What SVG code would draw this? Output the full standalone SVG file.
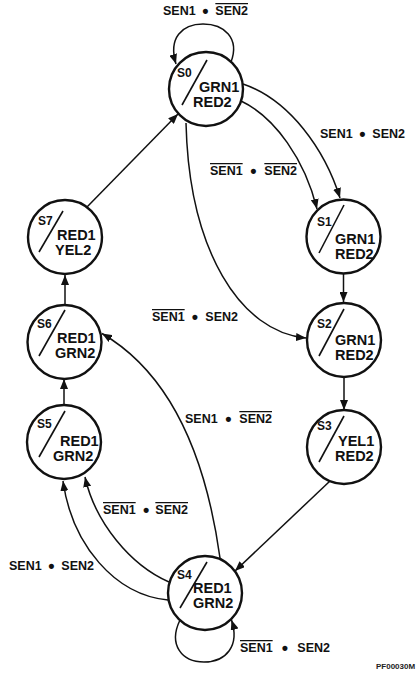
<svg xmlns="http://www.w3.org/2000/svg" width="416" height="678" viewBox="0 0 416 678">
<style>
.st{fill:none;stroke:#111;stroke-width:2.4}
.sl{stroke:#111;stroke-width:1.6;fill:none}
.e{fill:none;stroke:#111;stroke-width:1.5}
.nm{font-family:"Liberation Sans",Arial,sans-serif;font-weight:bold;font-size:12px;fill:#111}
.out{font-family:"Liberation Sans",Arial,sans-serif;font-weight:bold;font-size:14.5px;fill:#111}
.lb{font-family:"Liberation Sans",Arial,sans-serif;font-weight:bold;font-size:12.5px;fill:#111}
.bu{font-size:18px}
.ov{text-decoration:overline}
.id{font-family:"Liberation Sans",Arial,sans-serif;font-weight:bold;font-size:8px;fill:#222}
</style>
<defs>
<marker id="ah" markerUnits="userSpaceOnUse" markerWidth="10" markerHeight="8" refX="10" refY="4" orient="auto">
<path d="M0,0 L10,4 L0,8 z" fill="#111"/>
</marker>
</defs>
<rect width="416" height="678" fill="#fff"/>
<g id="connectors">
<path class="e" d="M231,62 C240,38 224,24 203,24 C182,24 168,38 176,64" marker-end="url(#ah)"/>
<path class="e" d="M243,84 C290,100 325,150 340,198" marker-end="url(#ah)"/>
<path class="e" d="M241,101 C275,117 305,160 317,209" marker-end="url(#ah)"/>
<path class="e" d="M186,123 C189,250 240,332 306,338" marker-end="url(#ah)"/>
<path class="e" d="M343.5,274 L343.5,302" marker-end="url(#ah)"/>
<path class="e" d="M344,377 L344,410" marker-end="url(#ah)"/>
<path class="e" d="M330,481 L235,571" marker-end="url(#ah)"/>
<path class="e" d="M220,558 C205,450 168,372 102,333.5" marker-end="url(#ah)"/>
<path class="e" d="M169,582 C130,565 95,522 85,477" marker-end="url(#ah)"/>
<path class="e" d="M168,600 C115,595 72,545 63,481" marker-end="url(#ah)"/>
<path class="e" d="M180,620 C168,645 182,662 204,662 C226,662 240,646 231.5,620" marker-end="url(#ah)"/>
<path class="e" d="M87,207 L178,114" marker-end="url(#ah)"/>
<path class="e" d="M65,305 L65,275" marker-end="url(#ah)"/>
<path class="e" d="M64,405 L64,379" marker-end="url(#ah)"/>
</g>
<g id="S0">
<circle class="st" cx="206" cy="89" r="37"/>
<line class="sl" x1="207" y1="60" x2="182" y2="105"/>
<text class="nm" x="177" y="77">S0</text>
<text class="out" x="199" y="92">GRN1</text>
<text class="out" x="193" y="107">RED2</text>
</g>
<g id="S1">
<circle class="st" cx="343.5" cy="236.5" r="37"/>
<line class="sl" x1="344" y1="205" x2="319" y2="253"/>
<text class="nm" x="317" y="226">S1</text>
<text class="out" x="335" y="244">GRN1</text>
<text class="out" x="335" y="259">RED2</text>
</g>
<g id="S2">
<circle class="st" cx="344" cy="340" r="37"/>
<line class="sl" x1="344" y1="309" x2="319" y2="356"/>
<text class="nm" x="317" y="328">S2</text>
<text class="out" x="335" y="345">GRN1</text>
<text class="out" x="335" y="360">RED2</text>
</g>
<g id="S3">
<circle class="st" cx="344" cy="447" r="37"/>
<line class="sl" x1="344" y1="416" x2="319" y2="462"/>
<text class="nm" x="317" y="430">S3</text>
<text class="out" x="338" y="446">YEL1</text>
<text class="out" x="335" y="461">RED2</text>
</g>
<g id="S4">
<circle class="st" cx="205" cy="593" r="37"/>
<line class="sl" x1="207" y1="562" x2="180" y2="608"/>
<text class="nm" x="177" y="579">S4</text>
<text class="out" x="193" y="593">RED1</text>
<text class="out" x="193" y="608">GRN2</text>
</g>
<g id="S5">
<circle class="st" cx="64" cy="442" r="37"/>
<line class="sl" x1="65" y1="411" x2="39" y2="457"/>
<text class="nm" x="37" y="428">S5</text>
<text class="out" x="60" y="446">RED1</text>
<text class="out" x="53" y="461">GRN2</text>
</g>
<g id="S6">
<circle class="st" cx="64.5" cy="342" r="37"/>
<line class="sl" x1="65" y1="310" x2="39" y2="356"/>
<text class="nm" x="37" y="328">S6</text>
<text class="out" x="57" y="343">RED1</text>
<text class="out" x="55" y="358">GRN2</text>
</g>
<g id="S7">
<circle class="st" cx="65" cy="237" r="37"/>
<line class="sl" x1="63" y1="211" x2="39" y2="252"/>
<text class="nm" x="38" y="225">S7</text>
<text class="out" x="57" y="240">RED1</text>
<text class="out" x="55" y="255">YEL2</text>
</g>
<g id="labels">
<text class="lb"><tspan x="163" y="15">SEN1</tspan><tspan class="bu" x="202.3" y="16.5">•</tspan><tspan class="ov" x="215.35" y="15">SEN2</tspan></text>
<text class="lb"><tspan x="320" y="138">SEN1</tspan><tspan class="bu" x="359.3" y="139.5">•</tspan><tspan x="372.35" y="138">SEN2</tspan></text>
<text class="lb"><tspan class="ov" x="210" y="175">SEN1</tspan><tspan class="bu" x="250.3" y="176.5">•</tspan><tspan class="ov" x="264.35" y="175">SEN2</tspan></text>
<text class="lb"><tspan class="ov" x="152" y="321">SEN1</tspan><tspan class="bu" x="191.8" y="322.5">•</tspan><tspan x="205.35" y="321">SEN2</tspan></text>
<text class="lb"><tspan x="185" y="423">SEN1</tspan><tspan class="bu" x="225.3" y="424.5">•</tspan><tspan class="ov" x="239.35" y="423">SEN2</tspan></text>
<text class="lb"><tspan class="ov" x="103" y="514">SEN1</tspan><tspan class="bu" x="143.1" y="515.5">•</tspan><tspan class="ov" x="155.35" y="514">SEN2</tspan></text>
<text class="lb"><tspan x="9" y="570">SEN1</tspan><tspan class="bu" x="48.3" y="571.5">•</tspan><tspan x="61.35" y="570">SEN2</tspan></text>
<text class="lb"><tspan class="ov" x="240" y="652">SEN1</tspan><tspan class="bu" x="281.8" y="653.5">•</tspan><tspan x="297.35" y="652">SEN2</tspan></text>
<text class="id" x="376" y="669">PF00030M</text>
</g>
</svg>
